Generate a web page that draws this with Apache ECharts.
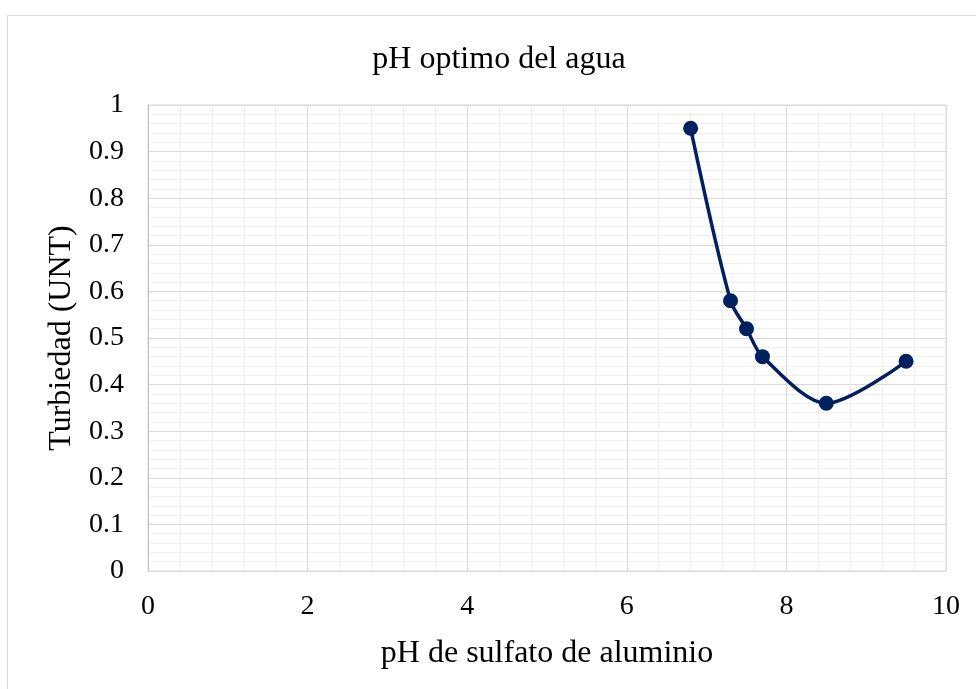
<!DOCTYPE html>
<html><head><meta charset="utf-8">
<script src="https://cdn.jsdelivr.net/npm/echarts@6/dist/echarts.min.js"></script>
<style>html,body{margin:0;padding:0;background:#fff}#c{width:976px;height:689px}</style>
</head><body><div id="c"></div>
<script>
const titleText = "pH optimo del agua";
const xName = "pH de sulfato de aluminio";
const yName = "Turbiedad (UNT)";
const phValues = [6.8, 7.3, 7.5, 7.7, 8.5, 9.5];
const turbidity = [0.95, 0.58, 0.52, 0.46, 0.36, 0.45];

const font = "'Liberation Serif','Times New Roman',serif";
const chart = echarts.init(document.getElementById('c'), null, {renderer: 'canvas'});
chart.setOption({
  animation: false,
  backgroundColor: '#fff',
  graphic: [{
    type: 'rect', shape: {x: 7.5, y: 15.5, width: 1000, height: 1000},
    style: {fill: 'none', stroke: '#d9d9d9', lineWidth: 1}, silent: true, z: -1
  }],
  title: {
    text: titleText, left: 494, top: 39, textAlign: 'center',
    textStyle: {fontFamily: font, fontSize: 32, fontWeight: 'normal', color: '#000'}
  },
  grid: {left: 148, right: 30, top: 105, bottom: 118, show: true, borderColor: '#d9d9d9', borderWidth: 1},
  xAxis: {
    type: 'value', min: 0, max: 10, interval: 2,
    name: xName, nameLocation: 'middle', nameGap: 67,
    nameTextStyle: {fontFamily: font, fontSize: 32, color: '#000'},
    axisLine: {show: true, lineStyle: {color: '#d9d9d9'}},
    axisTick: {show: false},
    axisLabel: {fontFamily: font, fontSize: 28, color: '#000', margin: 22},
    splitLine: {show: true, lineStyle: {color: '#d9d9d9', width: 1}},
    minorTick: {show: false, splitNumber: 5},
    minorSplitLine: {show: true, lineStyle: {color: '#efefef', width: 1}}
  },
  yAxis: {
    type: 'value', min: 0, max: 1, interval: 0.1,
    name: yName, nameLocation: 'middle', nameGap: 70, nameRotate: 90,
    nameTextStyle: {fontFamily: font, fontSize: 32, color: '#000'},
    axisLine: {show: true, lineStyle: {color: '#bfbfbf'}},
    axisTick: {show: false},
    axisLabel: {fontFamily: font, fontSize: 28, color: '#000', margin: 24},
    splitLine: {show: true, lineStyle: {color: '#d9d9d9', width: 1}},
    minorTick: {show: false, splitNumber: 5},
    minorSplitLine: {show: true, lineStyle: {color: '#efefef', width: 1}}
  },
  series: [{
    type: 'line',
    data: phValues.map((x, i) => [x, turbidity[i]]),
    smooth: 0.3,
    symbol: 'circle', symbolSize: 15,
    lineStyle: {color: '#002060', width: 3.5},
    itemStyle: {color: '#002060'}
  }]
});
</script></body></html>
